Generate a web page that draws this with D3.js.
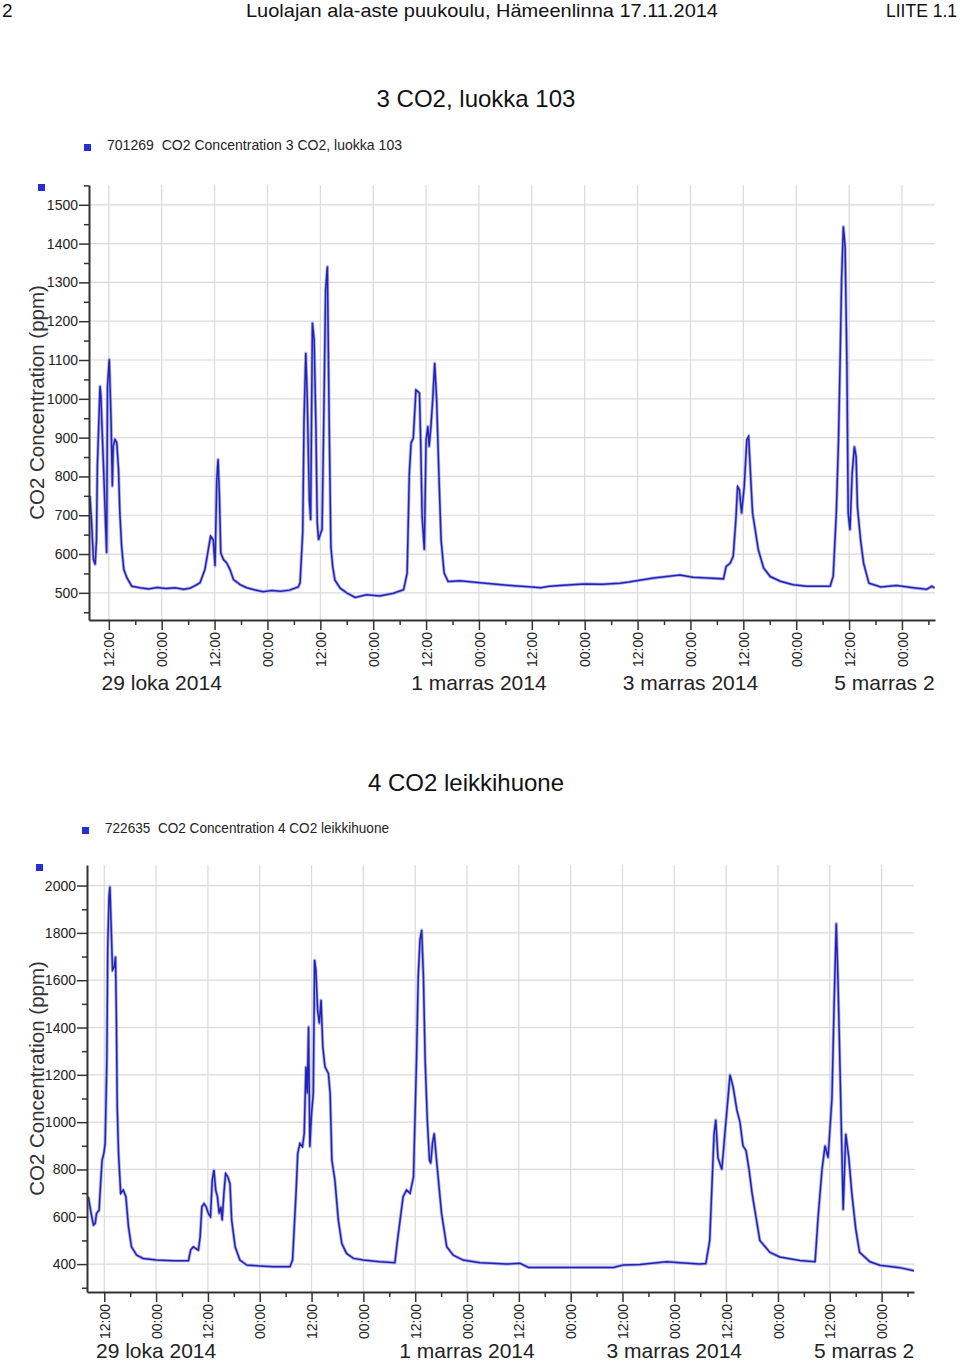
<!DOCTYPE html>
<html>
<head>
<meta charset="utf-8">
<script src="https://cdn.jsdelivr.net/npm/d3@7"></script>
<style>
  body { margin: 0; background: #fff; }
  svg { display: block; font-family: "Liberation Sans", Arial, sans-serif; }
</style>
</head>
<body>
<svg id="page" width="960" height="1362"></svg>
<script>
// readings: [hours since 28.10.2014 00:00, CO2 ppm]
const luokka103 = [
  [7.7,750],[8.1,680],[8.5,586],[8.9,573],[9.2,637],[9.4,827],[9.8,964],[10.0,1033],[10.2,1007],
  [10.5,913],[10.9,792],[11.3,663],[11.5,603],[11.7,1033],[12.1,1102],[12.5,947],[12.8,775],
  [13.0,878],[13.4,895],[13.8,887],[14.2,818],[14.5,706],[14.9,620],[15.4,560],[16.1,539],
  [17.2,517],[19.1,513],[21,510],[23,514],[25,511],[27,513],[29,509],[30.4,512],[31.5,518],
  [32.7,526],[33.8,560],[35.1,646],[35.7,637],[36.1,569],[36.5,792],[36.8,844],[37.1,749],
  [37.4,603],[38.0,586],[38.75,577],[39.5,560],[40.3,534],[41.8,521],[43.3,513],[45,508],
  [47,503],[49,506],[51,504],[53,507],[55,515],[55.4,526],[56.0,655],[56.3,946],[56.7,1118],
  [57.0,1015],[57.5,740],[57.8,688],[58.2,1196],[58.6,1152],[59.0,929],[59.3,680],[59.6,637],
  [60.1,655],[60.4,663],[60.8,964],[61.2,1281],[61.6,1341],[62.0,946],[62.4,619],[62.8,568],
  [63.3,533],[64.5,512],[66.0,500],[67.9,488],[70.5,495],[73.5,492],[76.6,499],[78.9,508],
  [79.7,551],[80.2,808],[80.6,886],[81.1,899],[81.7,1023],[82.5,1015],[82.8,877],[83.1,697],
  [83.6,611],[84.0,894],[84.4,929],[84.7,877],[85.1,929],[85.5,997],[85.95,1092],[86.4,997],
  [86.9,808],[87.4,637],[88.1,551],[89.0,529],[91.7,531],[96.2,526],[100,522],[104,518],
  [108,515],[110,513],[112,517],[116,520],[120,523],[124,522],[128,525],[130,528],[135.6,538],
  [141.6,546],[144.6,540],[148,538],[151.5,536],[152.1,568],[153.0,576],[153.7,594],[154.3,688],
  [154.7,774],[155.1,766],[155.6,705],[156.2,774],[156.8,894],[157.2,903],[157.7,791],[158.1,705],
  [158.7,662],[159.4,611],[160.6,564],[162.1,542],[164.4,530],[167.3,521],[170.4,517],[173.4,517],
  [175.7,517],[176.4,543],[177.1,705],[177.6,894],[178.0,1118],[178.3,1307],[178.7,1444],
  [179.1,1392],[179.5,1092],[179.8,705],[180.2,662],[180.7,808],[181.2,877],[181.6,851],
  [181.9,722],[182.6,637],[183.3,576],[184.5,525],[187.2,515],[190.8,519],[194.6,513],
  [197.6,509],[198.8,517],[199.4,512]
];

const leikkihuone = [
  [8.3,685],[8.7,642],[9.1,600],[9.5,565],[9.9,572],[10.2,614],[10.8,628],[11.2,755],[11.5,840],
  [11.9,868],[12.2,910],[12.6,1262],[12.8,1741],[13.1,1953],[13.3,1995],[13.6,1826],[13.9,1643],
  [14.3,1657],[14.6,1699],[14.8,1445],[15.0,1065],[15.3,868],[15.8,699],[16.4,713],[17.0,685],
  [17.6,558],[18.3,473],[19.5,438],[21.0,424],[24.1,417],[28.0,414],[31.5,414],[32.0,459],
  [32.6,473],[33.8,459],[34.2,516],[34.6,642],[35.1,656],[35.6,642],[36.1,614],[36.6,600],
  [37.0,755],[37.4,797],[37.8,713],[38.2,685],[38.6,614],[39.0,642],[39.3,586],[39.7,699],
  [40.1,783],[40.6,769],[41.1,741],[41.5,586],[42.3,473],[43.4,417],[45.0,396],[48.1,392],
  [51.1,389],[55.0,389],[55.6,417],[56.0,558],[56.4,699],[56.8,868],[57.3,910],[57.9,896],
  [58.3,952],[58.7,1234],[59.0,1121],[59.3,1403],[59.6,896],[60.0,1037],[60.4,1121],[60.7,1685],
  [61.0,1643],[61.4,1474],[61.8,1417],[62.2,1516],[62.6,1319],[63.1,1234],[63.9,1206],[64.3,1121],
  [64.7,840],[65.4,755],[66.2,586],[67.0,487],[68.1,445],[69.7,424],[72.0,417],[75.8,410],
  [79.3,406],[79.8,487],[80.5,586],[81.2,685],[82.0,713],[82.8,699],[83.6,769],[83.9,980],
  [84.3,1262],[84.7,1615],[85.1,1770],[85.5,1812],[85.9,1615],[86.3,1262],[86.8,1009],[87.3,840],
  [87.6,826],[88.0,910],[88.4,952],[88.8,868],[89.3,769],[90.1,614],[91.3,473],[92.8,438],
  [95.1,417],[99.0,406],[105.2,400],[108.3,403],[110.2,386],[114.4,386],[122.1,386],[129.9,386],
  [132.2,396],[136,398],[142.2,410],[146,405],[149.9,400],[151.3,402],[152.2,500],[153.2,950],
  [153.6,1010],[154.1,850],[155.0,800],[155.7,950],[156.9,1200],[157.6,1150],[158.5,1050],
  [159.2,1000],[159.9,900],[160.6,880],[161.3,800],[162.0,700],[162.9,600],[163.8,500],
  [166.1,450],[168.4,430],[173.1,415],[176.6,410],[177.3,600],[178.2,800],[178.9,900],
  [179.6,850],[180.5,1100],[181.0,1500],[181.5,1840],[181.9,1600],[182.4,1200],[183.1,630],
  [183.7,950],[184.4,850],[185.1,700],[186.0,550],[186.9,450],[189.3,410],[191.6,395],
  [196.2,385],[199.5,372]
];

const luokkaYTicks = [500, 600, 700, 800, 900, 1000, 1100, 1200, 1300, 1400, 1500];
const luokkaYMinor = [450, 550, 650, 750, 850, 950, 1050, 1150, 1250, 1350, 1450, 1550];
const leikkiYTicks = [400, 600, 800, 1000, 1200, 1400, 1600, 1800, 2000];
const leikkiYMinor = [300, 500, 700, 900, 1100, 1300, 1500, 1700, 1900];

const dateLabels = [
  [24, "29 loka 2014"],
  [96, "1 marras 2014"],
  [144, "3 marras 2014"],
  [192, "5 marras 2014"]
];

const START = Date.UTC(2014, 9, 28);
const toDate = h => new Date(START + h * 3600e3);

const svg = d3.select("#page");

// page header
const header = svg.append("g").attr("fill", "#111").style("font-size", "19px");
header.append("text").attr("x", 2).attr("y", 17).text("2");
header.append("text").attr("x", 246).attr("y", 17)
  .attr("textLength", 472).attr("lengthAdjust", "spacingAndGlyphs")
  .text("Luolajan ala-aste puukoulu, Hämeenlinna 17.11.2014");
header.append("text").attr("x", 957).attr("y", 17)
  .attr("text-anchor", "end").style("font-size", "17.5px")
  .text("LIITE 1.1");

function drawChart(c) {
  const g = svg.append("g");
  const x = d3.scaleTime().domain([toDate(c.xFrom), toDate(c.xTo)]).range([c.left, c.right]);
  const y = d3.scaleLinear().domain([c.yMin, c.yMax]).range([c.bottom, c.top]);
  const [d0, d1] = x.domain();
  const major = d3.utcHour.every(12).range(d0, d1);
  const minor = d3.utcHour.every(6).range(d0, d1).filter(d => d.getUTCHours() % 12 !== 0);

  const clipId = "clip" + c.id;
  svg.append("clipPath").attr("id", clipId)
    .append("rect").attr("x", 0).attr("y", c.top - 5)
    .attr("width", c.right).attr("height", 1362);

  // title + legend
  g.append("text").attr("x", c.titleX).attr("y", c.titleY)
    .attr("text-anchor", "middle").attr("fill", "#111")
    .style("font-size", "24px").text(c.title);
  g.append("rect").attr("x", c.legendX - 23).attr("y", c.legendY - 6)
    .attr("width", 7).attr("height", 7).attr("fill", "#2530d0");
  g.append("text").attr("x", c.legendX).attr("y", c.legendY)
    .attr("fill", "#222").style("font-size", "15px")
    .attr("textLength", c.legendLen).attr("lengthAdjust", "spacingAndGlyphs")
    .attr("xml:space", "preserve")
    .text(c.legend);
  g.append("rect").attr("x", c.left - 51).attr("y", c.top - 1)
    .attr("width", 7).attr("height", 7).attr("fill", "#2530d0");

  // grid
  g.append("g").selectAll("line").data(c.yTicks).join("line")
    .attr("x1", c.left).attr("x2", c.right)
    .attr("y1", d => y(d)).attr("y2", d => y(d))
    .attr("stroke", "#dadada").attr("stroke-width", 1.2);
  g.append("g").selectAll("line").data(major).join("line")
    .attr("x1", d => x(d)).attr("x2", d => x(d))
    .attr("y1", c.top).attr("y2", c.bottom)
    .attr("stroke", "#dadada").attr("stroke-width", 1.2);

  // series: pale envelope under the dark trace
  const line = d3.line().x(d => x(toDate(d[0]))).y(d => y(d[1]));
  const plot = g.append("g").attr("clip-path", `url(#${clipId})`);
  plot.append("path").datum(c.data).attr("d", line)
    .attr("fill", "none").attr("stroke", "#aeaeea").attr("stroke-width", 3.2)
    .attr("stroke-linejoin", "round");
  plot.append("path").datum(c.data).attr("d", line)
    .attr("fill", "none").attr("stroke", "#2222b4").attr("stroke-width", 1.5);

  // y axis
  const yAxis = g.append("g").attr("transform", `translate(${c.left},0)`)
    .call(d3.axisLeft(y).tickValues(c.yTicks).tickSize(10).tickSizeOuter(0).tickFormat(d3.format("d")));
  yAxis.select(".domain").attr("stroke", "#333").attr("stroke-width", 2);
  yAxis.selectAll(".tick line").attr("stroke", "#333").attr("stroke-width", 1.5);
  yAxis.selectAll("text").attr("x", -11).attr("fill", "#222")
    .style("font-size", "14px").style("font-family", "Liberation Sans, Arial, sans-serif");
  g.append("g").attr("transform", `translate(${c.left},0)`)
    .call(d3.axisLeft(y).tickValues(c.yMinor).tickSize(5).tickFormat(""))
    .call(a => a.select(".domain").remove())
    .selectAll("line").attr("stroke", "#333").attr("stroke-width", 1.5);

  g.append("text")
    .attr("transform", `translate(44,${(c.top + c.bottom) / 2}) rotate(-90)`)
    .attr("text-anchor", "middle").attr("fill", "#333")
    .style("font-size", "20.5px").text("CO2 Concentration (ppm)");

  // x axis
  const xAxis = g.append("g").attr("transform", `translate(0,${c.bottom})`)
    .call(d3.axisBottom(x).tickValues(major).tickSize(10).tickSizeOuter(0).tickFormat(d3.utcFormat("%H:%M")));
  xAxis.select(".domain").attr("stroke", "#333").attr("stroke-width", 2);
  xAxis.selectAll(".tick line").attr("stroke", "#333").attr("stroke-width", 1.5);
  xAxis.selectAll("text")
    .attr("transform", "rotate(-90)")
    .attr("x", -12).attr("y", 0).attr("dy", "0.36em")
    .attr("text-anchor", "end").attr("fill", "#222")
    .style("font-size", "14px").style("font-family", "Liberation Sans, Arial, sans-serif");
  g.append("g").attr("transform", `translate(0,${c.bottom})`)
    .call(d3.axisBottom(x).tickValues(minor).tickSize(5).tickFormat(""))
    .call(a => a.select(".domain").remove())
    .selectAll("line").attr("stroke", "#333").attr("stroke-width", 1.5);

  // date labels, cut at the end of the axis as in the original export
  g.append("g").attr("clip-path", `url(#${clipId})`)
    .selectAll("text").data(dateLabels).join("text")
    .attr("x", d => x(toDate(d[0]))).attr("y", c.dateY)
    .attr("text-anchor", "middle").attr("fill", "#222")
    .style("font-size", "21px").text(d => d[1]);
}

drawChart({
  id: "a", data: luokka103,
  title: "3 CO2, luokka 103", titleX: 476, titleY: 107,
  legend: "701269  CO2 Concentration 3 CO2, luokka 103", legendX: 107, legendY: 150, legendLen: 295,
  left: 89, right: 935, top: 185, bottom: 620,
  xFrom: 7.5, xTo: 199.5, yMin: 430, yMax: 1551,
  yTicks: luokkaYTicks, yMinor: luokkaYMinor, dateY: 690
});

drawChart({
  id: "b", data: leikkihuone,
  title: "4 CO2 leikkihuone", titleX: 466, titleY: 791,
  legend: "722635  CO2 Concentration 4 CO2 leikkihuone", legendX: 105, legendY: 833, legendLen: 284,
  left: 87, right: 914, top: 865, bottom: 1292,
  xFrom: 8, xTo: 199.5, yMin: 282, yMax: 2087,
  yTicks: leikkiYTicks, yMinor: leikkiYMinor, dateY: 1358
});
</script>
</body>
</html>
